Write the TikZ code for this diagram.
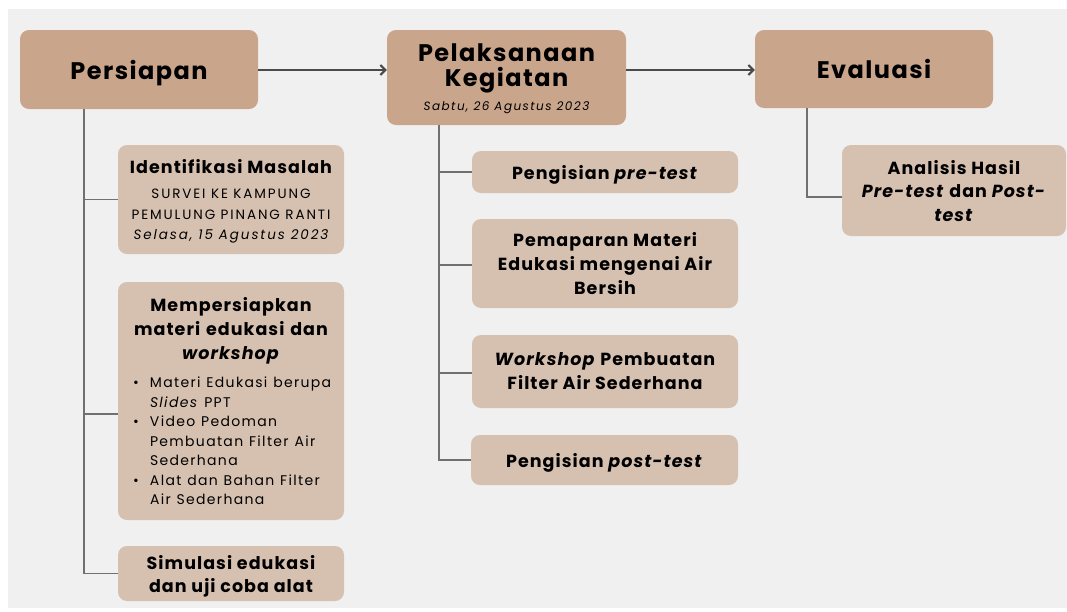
\documentclass[tikz,border=0pt]{standalone}
\usepackage{fontspec}
\setmainfont{Poppins}
\newfontfamily\wide[LetterSpace=6]{Poppins}
\newfontfamily\semi[LetterSpace=6]{Poppins}
\newfontfamily\subf[LetterSpace=14]{Poppins}
\newfontfamily\bulf[LetterSpace=9.5]{Poppins}
\newfontfamily\datf[LetterSpace=12]{Poppins}
\usetikzlibrary{arrows.meta,calc}
\definecolor{bg}{HTML}{F0F0F0}
\definecolor{darkbox}{HTML}{C9A58C}
\definecolor{lightbox}{HTML}{D6C1B1}
\definecolor{ln}{HTML}{707070}
\definecolor{arr}{HTML}{4A4A4A}
\newcommand{\bigt}{\wide\bfseries\fontsize{24}{25}\selectfont}
\newcommand{\midt}{\semi\bfseries\fontsize{17.5}{24}\selectfont}
\newcommand{\smt}{\subf\mdseries\fontsize{13.5}{20.5}\selectfont}
\newcommand{\blt}{\bulf\mdseries\fontsize{14}{19.5}\selectfont}
\begin{document}
\begin{tikzpicture}[x=1pt,y=-1pt,
  mainbox/.style={fill=darkbox, rounded corners=9pt, inner sep=0pt, align=center, text=black, text depth=0pt, font=\bigt},
  subbox/.style={fill=lightbox, rounded corners=9pt, inner sep=0pt, align=center, text=black, text depth=0pt, font=\midt},
  link/.style={draw=ln, line width=1.6pt},
  flow/.style={draw=arr, line width=2.2pt, -{Straight Barb[length=5pt,width=10pt,line width=2pt]}}]
\useasboundingbox (0,0) rectangle (1067,611);
\fill[white] (0,0) rectangle (1067,611);
\fill[bg] (8,9) rectangle (1067,608);

% main stages
\node[mainbox, minimum width=238, minimum height=79] (pers) at (139,69.5) {Persiapan};
\node[mainbox, minimum width=239, minimum height=95] (pela) at (506.5,77.5)
  {Pelaksanaan\\Kegiatan\\[-1pt]{\datf\mdseries\itshape\fontsize{12}{14}\selectfont Sabtu, 26 Agustus 2023}};
\node[mainbox, minimum width=238, minimum height=78] (eval) at (874,69) {Evaluasi};

\draw[flow] (pers.east |- 0,70) -- (pela.west |- 0,70);
\draw[flow] (pela.east |- 0,70) -- (eval.west |- 0,70);

% Persiapan children
\node[subbox, minimum width=226, minimum height=109, font=\smt] (ident) at (231,199.5)
  {{\midt Identifikasi Masalah}\\[4.5pt]SURVEI KE KAMPUNG\\PEMULUNG PINANG RANTI\\{\itshape Selasa, 15 Agustus 2023}};
\node[subbox, minimum width=226, minimum height=238, text width=214, text depth={}] (mem) at (231,401)
  {{\midt\centering Mempersiapkan\\ materi edukasi dan\\ \textit{workshop}\par}
   \vspace{9pt}
   {\blt\raggedright\leftskip=9pt
   \hangindent=17pt\hangafter=1\noindent\makebox[17pt][l]{\textbullet}Materi Edukasi berupa\newline \textit{Slides} PPT\par
   \hangindent=17pt\hangafter=1\noindent\makebox[17pt][l]{\textbullet}Video Pedoman\newline Pembuatan Filter Air\newline Sederhana\par
   \hangindent=17pt\hangafter=1\noindent\makebox[17pt][l]{\textbullet}Alat dan Bahan Filter\newline Air Sederhana\par}};
\node[subbox, minimum width=226, minimum height=55] (sim) at (231,573.5)
  {Simulasi edukasi\\[-1pt]dan uji coba alat};

\draw[link] ($(pers.south west)+(64,0)$) |- (ident.west);
\draw[link] ($(pers.south west)+(64,0)$) |- ($(mem.west)+(0,13)$);
\draw[link] ($(pers.south west)+(64,0)$) |- (sim.west);

% Pelaksanaan children
\node[subbox, minimum width=266, minimum height=42] (pre) at (605,172)
  {Pengisian \textit{pre-test}};
\node[subbox, minimum width=266, minimum height=89] (pema) at (605,263.5)
  {Pemaparan Materi\\Edukasi mengenai Air\\Bersih};
\node[subbox, minimum width=266, minimum height=73] (work) at (605,371.5)
  {\textit{Workshop} Pembuatan\\Filter Air Sederhana};
\node[subbox, minimum width=267, minimum height=50] (post) at (604.5,460)
  {Pengisian \textit{post-test}};

\draw[link] ($(pela.south west)+(52,0)$) |- (pre.west);
\draw[link] ($(pela.south west)+(52,0)$) |- ($(pema.west)+(0,1.5)$);
\draw[link] ($(pela.south west)+(52,0)$) |- ($(work.west)+(0,1.5)$);
\draw[link] ($(pela.south west)+(52,0)$) |- (post.west);

% Evaluasi child
\node[subbox, minimum width=224, minimum height=91] (anal) at (954,190.5)
  {Analisis Hasil\\[-0.5pt]\textit{Pre-test} dan \textit{Post-}\\[-0.5pt]\textit{test}};
\draw[link] ($(eval.south west)+(52,0)$) |- ($(anal.west)+(0,6.5)$);
\end{tikzpicture}
\end{document}
